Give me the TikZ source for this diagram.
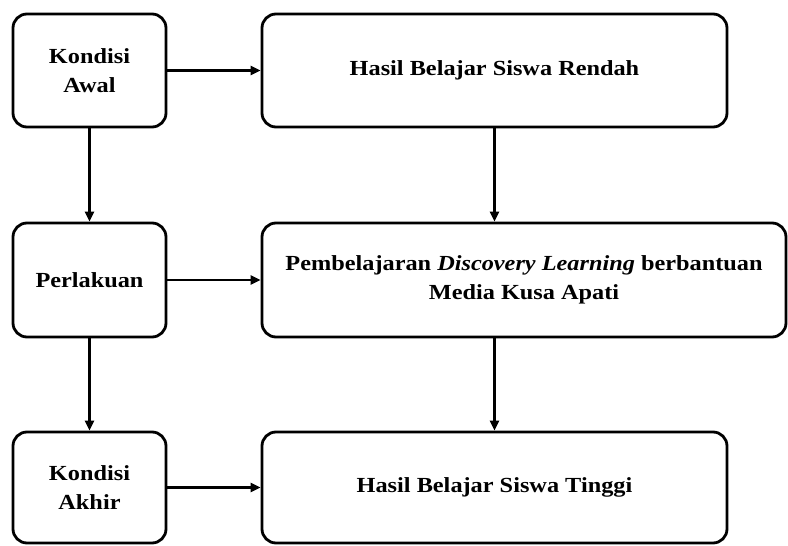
\documentclass[tikz,border=0pt]{standalone}
\usepackage{fontspec}
\setmainfont{Liberation Serif}[FakeStretch=1.13]
\usetikzlibrary{arrows.meta}

\begin{document}
\begin{tikzpicture}[x=1pt,y=-1pt,
			Box/.style={draw, line width=2.8pt, rounded corners=14pt, align=center,
				inner sep=0pt, font=\fontsize{21.5}{28.5}\selectfont\bfseries},
			Arr/.style={draw, line width=2.2pt, -{Triangle[length=10pt,width=9pt]}}]
			%\draw[help lines] (0,0) grid (788,546);
			\useasboundingbox (0,0) rectangle (788,546);
			
			\node[Box, minimum width=153pt, minimum height=113pt] (awal) at (89.5,70.5) {Kondisi\\Awal};
			\node[Box, minimum width=153pt, minimum height=114pt] (perlakuan) at (89.5,280) {Perlakuan};
			\node[Box, minimum width=153pt, minimum height=111pt] (akhir) at (89.5,487.5) {Kondisi\\Akhir};
			
			\node[Box, minimum width=465pt, minimum height=113pt] (rendah) at (494.5,70.5) {Hasil Belajar Siswa Rendah};
			\node[Box, minimum width=524pt, minimum height=114pt] (pembelajaran) at (524,280)
				{Pembelajaran \textit{Discovery Learning} berbantuan\\Media Kusa Apati};
			\node[Box, minimum width=465pt, minimum height=111pt] (tinggi) at (494.5,487.5) {Hasil Belajar Siswa Tinggi};
			
			\draw[Arr] (awal) -- (rendah);
			\draw[Arr] (perlakuan) -- (pembelajaran);
			\draw[Arr] (akhir) -- (tinggi);
			
			\draw[Arr] (awal) -- (perlakuan);
			\draw[Arr] (perlakuan) -- (akhir);
			\draw[Arr] (rendah) -- (rendah.south |- pembelajaran.north);
			\draw[Arr] (pembelajaran.south -| tinggi.north) -- (tinggi);
			\end{tikzpicture}
\end{document}
